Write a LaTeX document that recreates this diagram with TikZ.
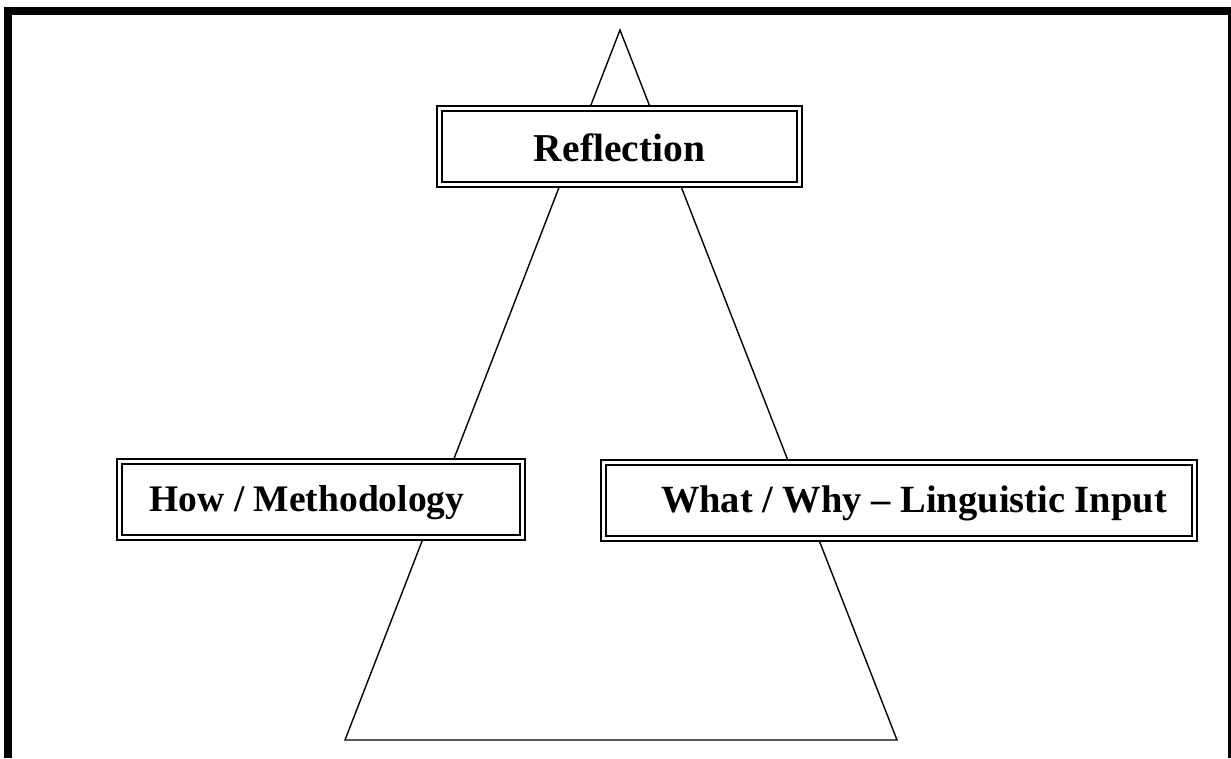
\documentclass[tikz,border=0pt]{standalone}
\usepackage{fontspec}
\setmainfont{Liberation Serif}
\begin{document}
\begin{tikzpicture}[x=1pt,y=-1pt,
  framebar/.style={fill=black},
  tri/.style={draw=black,line width=1.4pt,line join=miter},
  dbox/.style={draw=black,fill=white,line width=2.2pt,
     rectangle,inner sep=0pt,outer sep=0pt},
  innerline/.style={draw=black,line width=1.6pt},
  lbl/.style={inner sep=0pt,anchor=base}]
\useasboundingbox (0,0) rectangle (1231,758);
% outer frame
\fill[framebar] (4,7) rectangle (12,758);
\fill[framebar] (4,7) rectangle (1231,15);
\fill[framebar] (1228,7) rectangle (1231,758);
% triangle
\coordinate (apex) at (620,30);
\coordinate (bl) at (345,740);
\coordinate (br) at (897,740);
\draw[tri] (apex) -- (bl) -- (br) -- cycle;
% boxes
\node[dbox,minimum width=364.8pt,minimum height=80.8pt] (refl) at (619.5,146.5) {};
\draw[innerline] ([shift={(5,5)}]refl.north west) rectangle ([shift={(-5,-5)}]refl.south east);
\node[lbl,font=\fontsize{39.5}{47}\selectfont\bfseries] (refltxt) at (619.5,161) {Reflection};
\node[dbox,minimum width=407.8pt,minimum height=80.8pt] (how) at (321,499.5) {};
\draw[innerline] ([shift={(5,5)}]how.north west) rectangle ([shift={(-5,-5)}]how.south east);
\node[lbl,font=\fontsize{37.5}{45}\selectfont\bfseries] (howtxt) at (307,511) {How / Methodology};
\node[dbox,minimum width=595.8pt,minimum height=80.8pt] (what) at (899,500.5) {};
\draw[innerline] ([shift={(5,5)}]what.north west) rectangle ([shift={(-5,-5)}]what.south east);
\node[lbl,font=\fontsize{38.5}{46}\selectfont\bfseries] (whattxt) at (914,512) {What / Why -- Linguistic Input};
\end{tikzpicture}
\end{document}
